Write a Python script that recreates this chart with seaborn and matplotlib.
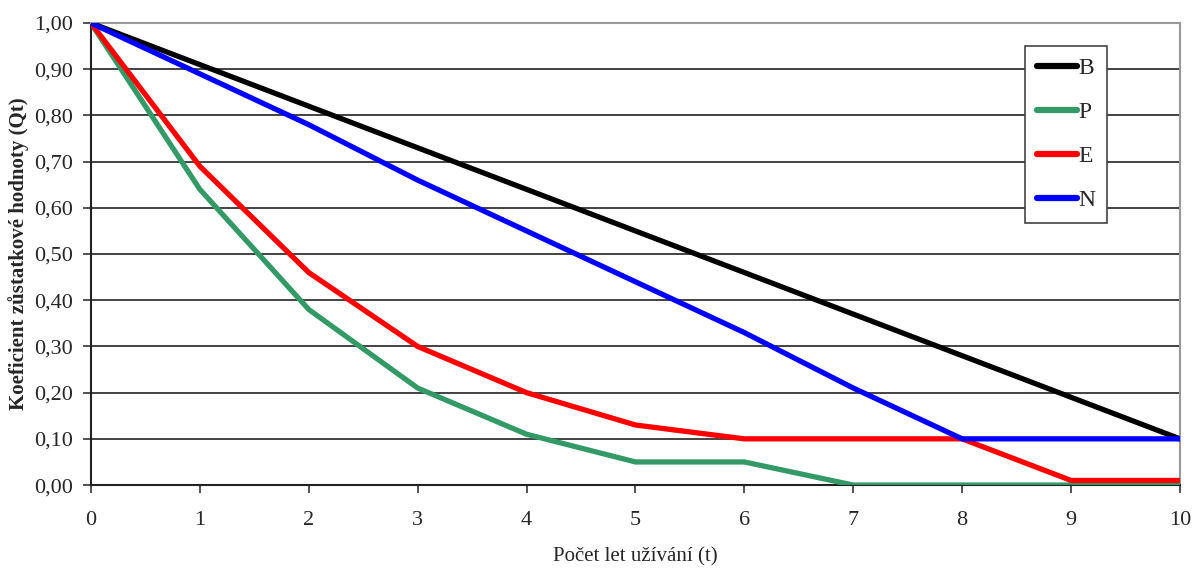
import pandas as pd
import numpy as np
import matplotlib.pyplot as plt
import seaborn as sns
from matplotlib.ticker import FuncFormatter

# data
years = [0, 1, 2, 3, 4, 5, 6, 7, 8, 9, 10]
B = [1.00, 0.91, 0.82, 0.73, 0.64, 0.55, 0.46, 0.37, 0.28, 0.19, 0.10]
P = [1.00, 0.64, 0.38, 0.21, 0.11, 0.05, 0.05, 0.00, 0.00, 0.00, 0.00]
E = [1.00, 0.69, 0.46, 0.30, 0.20, 0.13, 0.10, 0.10, 0.10, 0.01, 0.01]
N = [1.00, 0.89, 0.78, 0.66, 0.55, 0.44, 0.33, 0.21, 0.10, 0.10, 0.10]
series = ['B', 'P', 'E', 'N']
colors = ['#000000', '#339966', '#ff0000', '#0000ff']

df = pd.DataFrame({'t': years, 'B': B, 'P': P, 'E': E, 'N': N})
long = df.melt(id_vars='t', var_name='typ', value_name='Qt')

sns.set_style('white')
plt.rcParams['font.family'] = ['Liberation Serif', 'DejaVu Serif']

fig = plt.figure(figsize=(11.92, 5.83), dpi=100)
ax = fig.add_axes([0.0763, 0.168, 0.9136, 0.7925])

sns.lineplot(data=long, x='t', y='Qt', hue='typ', hue_order=series,
             palette=colors, linewidth=3.8, ax=ax, zorder=3)

ax.set_xlim(0, 10)
ax.set_ylim(0, 1.0)
ax.set_xticks(np.arange(0, 11, 1))
ax.set_yticks(np.arange(0, 1.01, 0.1))
ax.yaxis.set_major_formatter(FuncFormatter(lambda v, p: f'{v:.2f}'.replace('.', ',')))
ax.grid(axis='y', color='#222222', linewidth=1.2)
ax.grid(axis='x', visible=False)
ax.tick_params(axis='both', direction='out', length=6, width=1.2, color='#333333',
               labelsize=16, bottom=True, left=True, pad=7)
ax.tick_params(axis='x', pad=13)

for s in ['left', 'bottom']:
    ax.spines[s].set_color('#222222')
    ax.spines[s].set_linewidth(1.5)
for s in ['top', 'right']:
    ax.spines[s].set_color('#999999')
    ax.spines[s].set_linewidth(1.5)

ax.set_xlabel('Počet let užívání (t)', fontsize=15, labelpad=12)
ax.set_ylabel('Koeficient zůstatkové hodnoty (Qt)', fontsize=15, fontweight='bold')
ax.yaxis.set_label_coords(-0.057, 0.5)

leg = ax.legend(loc='upper right', bbox_to_anchor=(0.933, 0.95), fontsize=17,
                handlelength=1.7, handletextpad=0.05, labelspacing=0.95,
                borderpad=0.5, fancybox=False, framealpha=1, edgecolor='#444444',
                borderaxespad=0)
leg.get_frame().set_linewidth(1.2)
for line in leg.get_lines():
    line.set_linewidth(4.5)

fig.savefig('out.png', dpi=100)
plt.close()
